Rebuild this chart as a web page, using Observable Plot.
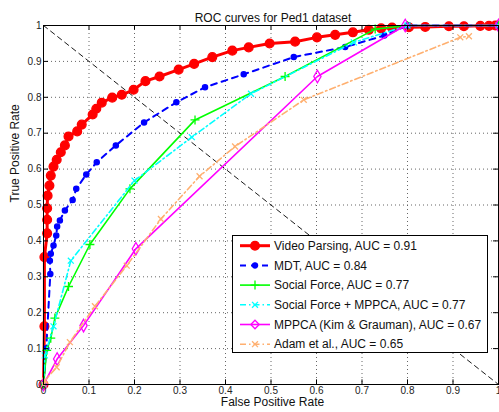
<!DOCTYPE html>
<html><head><meta charset="utf-8">
<script src="https://cdn.jsdelivr.net/npm/d3@7"></script>
<script src="https://cdn.jsdelivr.net/npm/@observablehq/plot@0.6"></script>
<style>
html,body{margin:0;padding:0;background:#fff;}
#wrap{position:relative;width:499px;height:412px;overflow:hidden;font-family:"Liberation Sans",Arial,Helvetica,sans-serif;}
#legend{position:absolute;left:232px;top:235px;}
</style></head><body><div id="wrap"></div>
<script>
// ---- data ----
const title = "ROC curves for Ped1 dataset";
const xLabel = "False Positive Rate";
const yLabel = "True Positive Rate";
const tickValues = [0,0.1,0.2,0.3,0.4,0.5,0.6,0.7,0.8,0.9,1];
const tickLabels = ["0","0.1","0.2","0.3","0.4","0.5","0.6","0.7","0.8","0.9","1"];
const seriesNames = [
  "Video Parsing, AUC = 0.91",
  "MDT, AUC = 0.84",
  "Social Force, AUC = 0.77",
  "Social Force + MPPCA, AUC = 0.77",
  "MPPCA (Kim & Grauman), AUC = 0.67",
  "Adam et al., AUC = 0.65"
];
const vpFpr = [0,0.002,0.002,0.008,0.008,0.008,0.009,0.013,0.016,0.022,0.029,0.038,0.047,0.055,0.074,0.084,0.108,0.116,0.128,0.151,0.172,0.198,0.224,0.255,0.297,0.331,0.371,0.415,0.451,0.497,0.553,0.601,0.641,0.680,0.715,0.742,0.766,0.803,0.839,0.891,0.924,0.960,0.979,0.993,1.0];
const vpTpr = [0,0.162,0.355,0.421,0.459,0.491,0.526,0.554,0.582,0.607,0.626,0.647,0.666,0.691,0.705,0.724,0.752,0.768,0.785,0.799,0.807,0.821,0.845,0.858,0.877,0.893,0.912,0.930,0.939,0.950,0.955,0.967,0.974,0.981,0.988,0.992,0.994,0.995,0.996,0.998,0.998,0.999,0.999,1.0,1.0];
const mdtFpr = [0,0.006,0.015,0.014,0.016,0.022,0.028,0.030,0.036,0.047,0.064,0.072,0.094,0.117,0.159,0.221,0.292,0.355,0.440,0.550,0.663,0.749,0.80,1];
const mdtTpr = [0,0.10,0.308,0.345,0.364,0.387,0.415,0.440,0.457,0.485,0.514,0.545,0.585,0.619,0.666,0.730,0.786,0.828,0.864,0.912,0.940,0.972,1,1];
const sfFpr = [0,0.007,0.016,0.025,0.055,0.102,0.190,0.333,0.531,0.729,0.8,1];
const sfTpr = [0,0.095,0.129,0.185,0.273,0.390,0.545,0.737,0.858,0.990,1,1];
const sfmFpr = [0,0.003,0.022,0.060,0.200,0.326,0.456,0.682,0.8,1];
const sfmTpr = [0,0.081,0.162,0.345,0.568,0.689,0.810,0.953,1,1];
const mppcaFpr = [0,0.030,0.088,0.203,0.602,0.795,1];
const mppcaTpr = [0,0.071,0.164,0.378,0.858,1,1];
const adamFpr = [0,0.003,0.029,0.058,0.113,0.183,0.258,0.343,0.421,0.572,0.916,0.935];
const adamTpr = [0,0.011,0.048,0.118,0.218,0.331,0.461,0.580,0.663,0.793,0.967,0.970];
const diagFpr = [0,1];
const diagTpr = [1,0];

// ---- styles ----
const styles = [
  {stroke:"#ff0000", width:3,   dash:null,          symbol:"circle",  r:4.4, fill:"#ff0000"},
  {stroke:"#0000ff", width:2,   dash:"6,5",         symbol:"circle",  r:2.6, fill:"#0000ff"},
  {stroke:"#00ff00", width:1.6, dash:null,          symbol:"plus",    r:3.0, fill:"none"},
  {stroke:"#00ffff", width:1.6, dash:"6,3,1.5,3",   symbol:"times",   r:2.8, fill:"none"},
  {stroke:"#ff00ff", width:1.6, dash:null,          symbol:"diamond", r:3.8, fill:"none"},
  {stroke:"#ffb070", width:1.6, dash:"6,3,1.5,3",   symbol:"times",   r:2.8, fill:"none"}
];
const toRows = (xs, ys) => xs.map((x, i) => ({x, y: ys[i]}));
const allSeries = [
  toRows(vpFpr, vpTpr), toRows(mdtFpr, mdtTpr), toRows(sfFpr, sfTpr),
  toRows(sfmFpr, sfmTpr), toRows(mppcaFpr, mppcaTpr), toRows(adamFpr, adamTpr)
];
const inner = tickValues.slice(1, -1);
const gridStyle = {stroke:"#555", strokeOpacity:1, strokeDasharray:"1,3", strokeWidth:0.9};
const fmt = d => tickLabels[tickValues.indexOf(d)];

const chart = Plot.plot({
  width: 499, height: 412,
  marginLeft: 43, marginRight: 1, marginTop: 25, marginBottom: 28,
  x: {domain: [0, 1]},
  y: {domain: [0, 1]},
  style: {fontFamily: '"Liberation Sans",Arial,Helvetica,sans-serif', fontSize: "10px", background: "white", color: "#222"},
  marks: [
    Plot.gridX(inner, gridStyle),
    Plot.gridY(inner, gridStyle),
    Plot.line(toRows(diagFpr, diagTpr), {x: "x", y: "y", stroke: "#000", strokeWidth: 0.9, strokeDasharray: "5,4"}),
    ...allSeries.flatMap((rows, i) => {
      const s = styles[i];
      return [
        Plot.line(rows, {x: "x", y: "y", stroke: s.stroke, strokeWidth: s.width, strokeDasharray: s.dash}),
        Plot.dot(rows, {x: "x", y: "y", symbol: s.symbol, r: s.r, stroke: s.stroke, fill: s.fill, strokeWidth: 1.3})
      ];
    }),
    Plot.ruleX(tickValues, {x: d => d, y1: 0, y2: 0.013, stroke: "#000"}),
    Plot.ruleX(tickValues, {x: d => d, y1: 1, y2: 0.987, stroke: "#000"}),
    Plot.ruleY(tickValues, {y: d => d, x1: 0, x2: 0.011, stroke: "#000"}),
    Plot.ruleY(tickValues, {y: d => d, x1: 1, x2: 0.989, stroke: "#000"}),
    Plot.frame({stroke: "#000", strokeWidth: 1}),
    Plot.axisX(tickValues, {tickSize: 0, tickPadding: 2.5, tickFormat: fmt, fontSize: 10, label: null}),
    Plot.axisY(tickValues, {tickSize: 0, tickPadding: 2, tickFormat: fmt, fontSize: 10, label: null}),
    Plot.text([title], {text: d => d, frameAnchor: "top", dy: -12.5, dx: 2, fontSize: 12, fill: "#111"}),
    Plot.text([xLabel], {text: d => d, frameAnchor: "bottom", dy: 21.5, dx: 1.5, fontSize: 12, fill: "#111"}),
    Plot.text([yLabel], {text: d => d, frameAnchor: "left", rotate: -90, dx: -28, dy: -2.5, fontSize: 12, fill: "#111"})
  ]
});
const wrap = document.getElementById("wrap");
wrap.appendChild(chart);

// ---- legend ----
const lw = 256, lh = 118;
const leg = d3.select(wrap).append("svg").attr("id", "legend").attr("width", lw).attr("height", lh)
  .style("font-family", '"Liberation Sans",Arial,Helvetica,sans-serif');
leg.append("rect").attr("x", 0.5).attr("y", 0.5).attr("width", lw - 1).attr("height", lh - 1)
  .attr("fill", "#fff").attr("stroke", "#000").attr("stroke-width", 1);
const symMap = {circle: d3.symbolCircle, plus: d3.symbolPlus, times: d3.symbolTimes, diamond: d3.symbolDiamond2};
seriesNames.forEach((name, i) => {
  const s = styles[i];
  const y = 10.7 + i * 19.7;
  const g = leg.append("g");
  g.append("line").attr("x1", 8).attr("x2", 38).attr("y1", y).attr("y2", y)
    .attr("stroke", s.stroke).attr("stroke-width", s.width).attr("stroke-dasharray", s.dash);
  g.append("path").attr("d", d3.symbol(symMap[s.symbol], s.r * s.r * Math.PI)())
    .attr("transform", `translate(23,${y})`).attr("stroke", s.stroke).attr("fill", s.fill).attr("stroke-width", 1.3);
  g.append("text").attr("x", 42).attr("y", y).attr("dy", "0.35em").attr("font-size", 12).attr("fill", "#111").text(name);
});
</script></body></html>
